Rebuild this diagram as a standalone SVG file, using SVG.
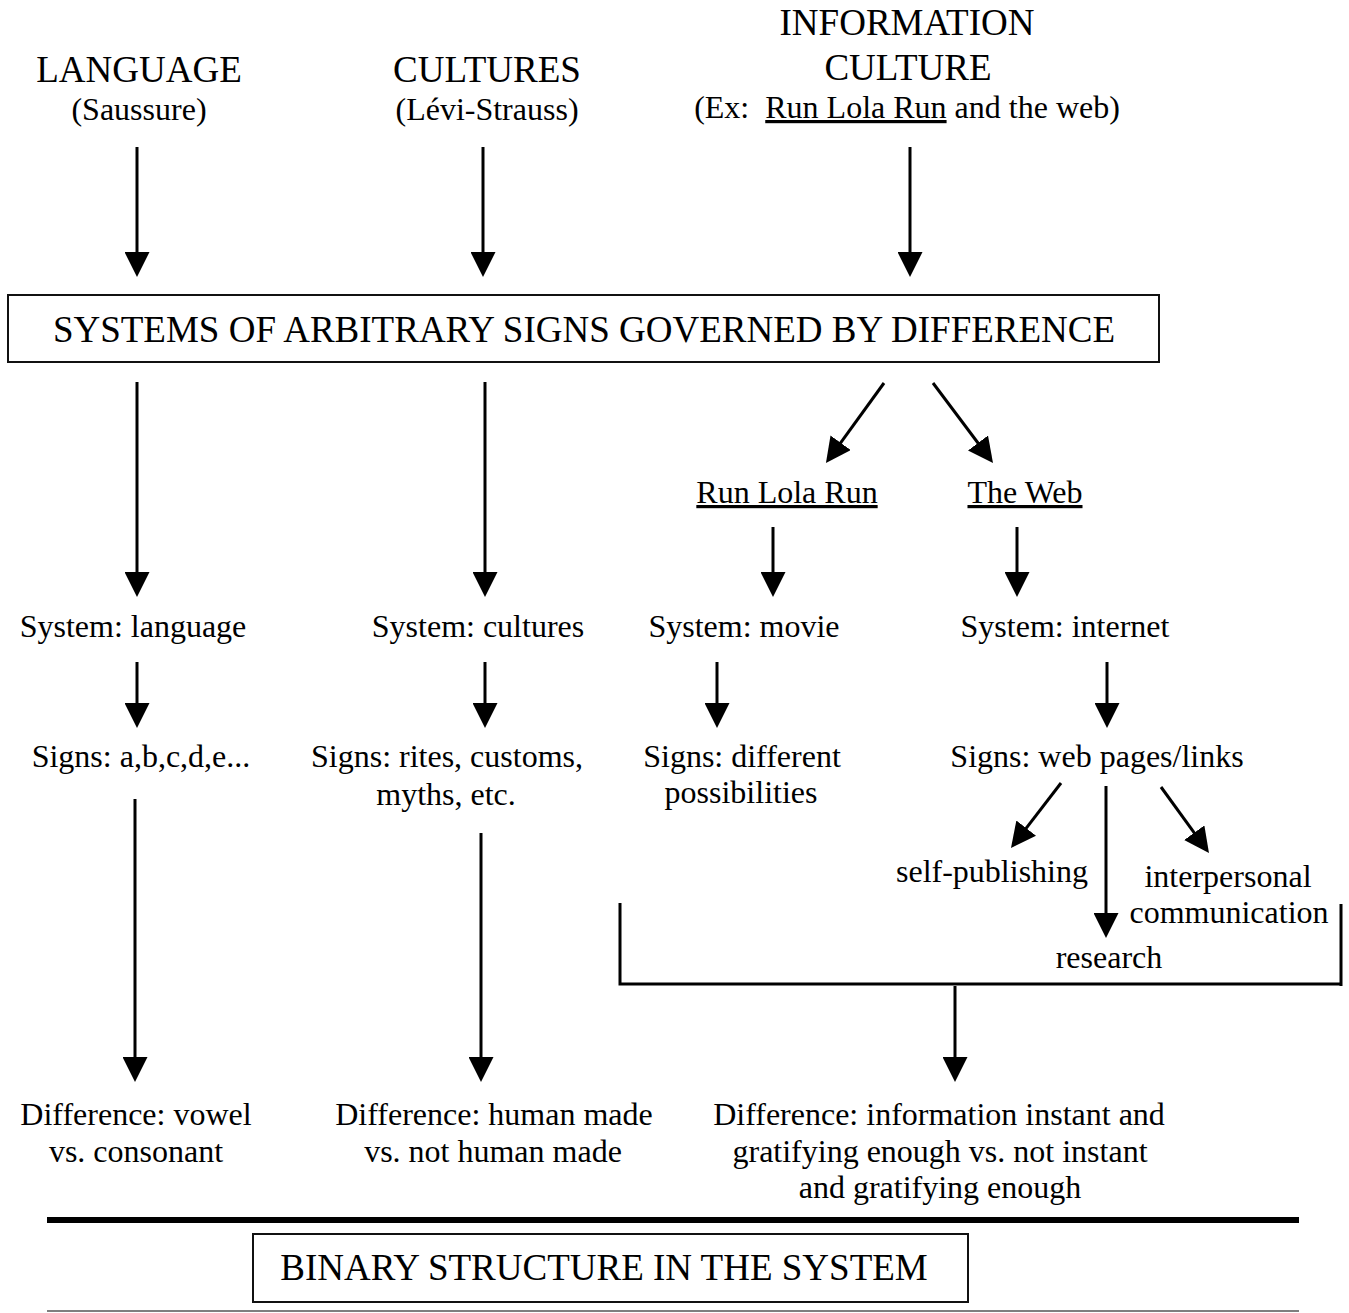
<svg xmlns="http://www.w3.org/2000/svg" width="1349" height="1313" viewBox="0 0 1349 1313">
<style>
text{font-family:"Liberation Serif","Times New Roman",serif;fill:#000;text-anchor:middle}
.t{font-size:37px}
.b{font-size:32px}
.u{text-decoration:underline}
.c{stroke:#000;stroke-width:3;fill:none}
.a{marker-end:url(#ah)}
.box{fill:#fff;stroke:#111;stroke-width:2}
</style>
<defs>
<marker id="ah" markerUnits="userSpaceOnUse" markerWidth="25" markerHeight="25" viewBox="0 0 25 25" refX="5" refY="12.5" orient="auto">
<path d="M0,0 L25,12.5 L0,25 Z" fill="#000"/>
</marker>
</defs>
<rect width="1349" height="1313" fill="#fff"/>
<g id="language"><text class="t" x="139" y="82">LANGUAGE</text><text class="b" x="139" y="120">(Saussure)</text></g>
<g id="cultures"><text class="t" x="487" y="82">CULTURES</text><text class="b" x="487" y="120">(Lévi-Strauss)</text></g>
<g id="information-culture"><text class="t" x="907" y="35">INFORMATION</text><text class="t" x="908" y="80">CULTURE</text><text class="b" x="907" y="118" xml:space="preserve">(Ex:  <tspan class="u">Run Lola Run</tspan> and the web)</text></g>
<g id="systems"><rect class="box" x="8" y="295" width="1151" height="67"/><text class="t" x="584" y="342">SYSTEMS OF ARBITRARY SIGNS GOVERNED BY DIFFERENCE</text></g>
<g id="run-lola-run"><text class="b u" x="787" y="503">Run Lola Run</text></g>
<g id="the-web"><text class="b u" x="1025" y="503">The Web</text></g>
<g id="system-language"><text class="b" x="133" y="637">System: language</text></g>
<g id="system-cultures"><text class="b" x="478" y="637">System: cultures</text></g>
<g id="system-movie"><text class="b" x="744" y="637">System: movie</text></g>
<g id="system-internet"><text class="b" x="1065" y="637">System: internet</text></g>
<g id="signs-language"><text class="b" x="141" y="767">Signs: a,b,c,d,e...</text></g>
<g id="signs-cultures"><text class="b" x="447" y="767">Signs: rites, customs,</text><text class="b" x="446" y="805">myths, etc.</text></g>
<g id="signs-movie"><text class="b" x="742" y="767">Signs: different</text><text class="b" x="741" y="803">possibilities</text></g>
<g id="signs-web"><text class="b" x="1097" y="767">Signs: web pages/links</text></g>
<g id="self-publishing"><text class="b" x="992" y="882">self-publishing</text></g>
<g id="interpersonal"><text class="b" x="1228" y="887">interpersonal</text><text class="b" x="1229" y="923">communication</text></g>
<g id="research"><text class="b" x="1109" y="968">research</text></g>
<g id="diff-language"><text class="b" x="136" y="1125">Difference: vowel</text><text class="b" x="136" y="1162">vs. consonant</text></g>
<g id="diff-cultures"><text class="b" x="494" y="1125">Difference: human made</text><text class="b" x="493" y="1162">vs. not human made</text></g>
<g id="diff-info"><text class="b" x="939" y="1125">Difference: information instant and</text><text class="b" x="940" y="1162">gratifying enough vs. not instant</text><text class="b" x="940" y="1198">and gratifying enough</text></g>
<g id="binary"><rect class="box" x="253" y="1234" width="715" height="68"/><text class="t" x="604" y="1280">BINARY STRUCTURE IN THE SYSTEM</text></g>
<g id="rules"><line x1="47" y1="1220" x2="1299" y2="1220" stroke="#000" stroke-width="6"/><line x1="47" y1="1311" x2="1299" y2="1311" stroke="#555" stroke-width="1.5"/></g>
<g id="connectors">
<path class="c a" d="M137,147 V257"/>
<path class="c a" d="M483,147 V257"/>
<path class="c a" d="M910,147 V257"/>
<path class="c a" d="M137,382 V577"/>
<path class="c a" d="M485,382 V577"/>
<path class="c a" d="M884,383 L837.7,446.8"/>
<path class="c a" d="M933,383 L981,447"/>
<path class="c a" d="M773,527 V577"/>
<path class="c a" d="M1017,527 V577"/>
<path class="c a" d="M137,662 V708"/>
<path class="c a" d="M485,662 V708"/>
<path class="c a" d="M717,662 V708"/>
<path class="c a" d="M1107,662 V708"/>
<path class="c a" d="M1061,783 L1023.2,832.1"/>
<path class="c a" d="M1106,786 V918"/>
<path class="c a" d="M1161,787 L1197.2,836.8"/>
<path class="c a" d="M135,799 V1062"/>
<path class="c a" d="M481,833 V1062"/>
<path class="c" d="M620,903 V985.5 M620,984 H1341 M1341,904 V986"/>
<path class="c a" d="M955,986 V1062"/>
</g>
</svg>
